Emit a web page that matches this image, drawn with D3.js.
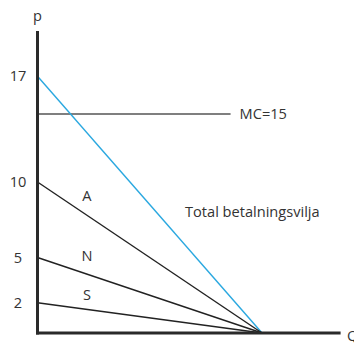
<!DOCTYPE html>
<html><head><meta charset="utf-8">
<script src="https://cdn.jsdelivr.net/npm/d3@7"></script>
<style>body{margin:0;background:#fff}</style>
</head><body>
<svg id="c" width="354" height="345"></svg>
<script>
const yTicks = [17, 10, 5, 2];
const curveNames = ["Total", "A", "N", "S"];
const intercepts = [17, 10, 5, 2];
const qEnd = 10;
const mcLevel = 14.5;
const mcEndQ = 8.6;
const mcLabel = "MC=15";
const totalLabel = "Total betalningsvilja";
const segLabels = [{t:"A", q:2.2, v:9.1}, {t:"N", q:2.2, v:5.1}, {t:"S", q:2.2, v:2.5}];

const svg = d3.select("#c");
const x = d3.scaleLinear().domain([0, 13.5]).range([37.5, 340.6]);
const y = d3.scaleLinear().domain([0, 20]).range([333, 31]);
const font = "'Open Sans', sans-serif";
const fs = 14.6;
const txt = "#333";

// MC line
svg.append("line").attr("x1", x(0)).attr("x2", x(mcEndQ)).attr("y1", y(mcLevel)).attr("y2", y(mcLevel))
  .attr("stroke", "#555").attr("stroke-width", 1.5);
svg.append("text").attr("x", x(mcEndQ) + 9).attr("y", y(mcLevel)).attr("dy", "0.35em")
  .attr("font-family", font).attr("font-size", fs).attr("fill", txt).text(mcLabel);

// demand lines
curveNames.forEach((n, i) => {
  svg.append("line").attr("x1", x(0)).attr("y1", y(intercepts[i])).attr("x2", x(qEnd)).attr("y2", y(0))
    .attr("stroke", n === "Total" ? "#2aa8e0" : "#222").attr("stroke-width", 1.4);
});

// axes
svg.append("line").attr("x1", x(0)).attr("x2", x(0)).attr("y1", y(0) + 1.5).attr("y2", y(20))
  .attr("stroke", "#2a2a2a").attr("stroke-width", 3);
svg.append("line").attr("x1", x(0) - 1.5).attr("x2", x(13.5)).attr("y1", y(0)).attr("y2", y(0))
  .attr("stroke", "#2a2a2a").attr("stroke-width", 3);

// tick labels
svg.selectAll(".yt").data(yTicks).enter().append("text")
  .attr("x", 18).attr("y", d => y(d)).attr("dy", "0.35em").attr("text-anchor", "middle")
  .attr("font-family", font).attr("font-size", fs).attr("fill", txt).text(d => d);

svg.append("text").attr("x", x(0)).attr("y", 16).attr("dy", "0.35em").attr("text-anchor", "middle")
  .attr("font-family", font).attr("font-size", fs).attr("fill", txt).text("p");
svg.append("text").attr("x", 347).attr("y", y(0) + 3).attr("dy", "0.35em")
  .attr("font-family", font).attr("font-size", fs).attr("fill", txt).text("Q");

svg.selectAll(".sl").data(segLabels).enter().append("text")
  .attr("x", d => x(d.q)).attr("y", d => y(d.v)).attr("dy", "0.35em").attr("text-anchor", "middle")
  .attr("font-family", font).attr("font-size", fs).attr("fill", txt).text(d => d.t);

svg.append("text").attr("x", 185).attr("y", 212).attr("dy", "0.35em")
  .attr("font-family", font).attr("font-size", fs).attr("fill", txt).text(totalLabel);
</script>
</body></html>
